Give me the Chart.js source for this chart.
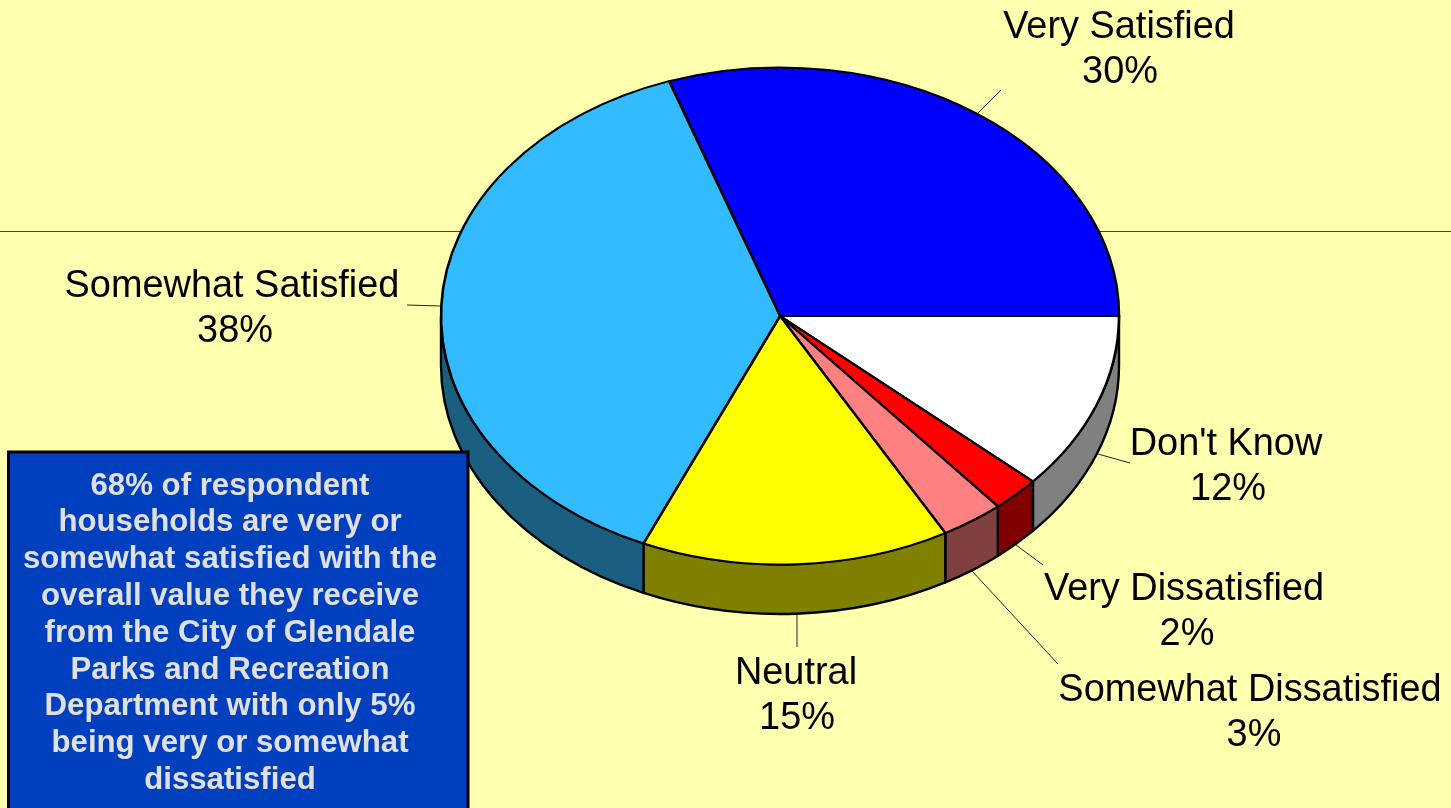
<!DOCTYPE html>
<html><head><meta charset="utf-8">
<style>html,body{margin:0;padding:0;background:#FFFFB0;overflow:hidden}canvas{display:block}</style>
<script src="https://cdn.jsdelivr.net/npm/chart.js@4"></script>
</head><body><canvas id="c" width="1451" height="808"></canvas>
<script>
const categories = ["Very Satisfied","Don't Know","Very Dissatisfied","Somewhat Dissatisfied","Neutral","Somewhat Satisfied"];
const percents = [30.3,11.6,2.3,3.0,14.7,38.1];
const topColors = ["#0000FF","#FFFFFF","#FF0000","#FF8080","#FFFF00","#33BBFF"];
const sideColors = ["#000080","#808080","#800000","#804040","#808000","#1A5E80"];
const labelCenters = [[1119,28],[1226,445],[1184,590],[1250,691],[796,674],[232,287]];
const percentShifts = [1,2,3,4,1,3];
const leaders = [[1001,90,978,113],[1130,463,1098,454],[1043,565,1016,545],[1058,664,972,571],[797,647,797,615],[407,305,441,306]];
const noteLines = ["68% of respondent","households are very or","somewhat satisfied with the","overall value they receive","from the City of Glendale","Parks and Recreation","Department with only 5%","being very or somewhat","dissatisfied"];
const pieCy = 316, pieRadius = 339, squash = 248.5/339, depth = 49.5;
const font = '"Liberation Sans", Arial, sans-serif';

const pie3d = {
  id:'pie3d',
  beforeDatasetsDraw(chart){
    const ctx = chart.ctx, arcs = chart.getDatasetMeta(0).data;
    ctx.save();
    ctx.fillStyle = '#3A4550';
    ctx.fillRect(0,231,1451,1);
    ctx.strokeStyle = '#000'; ctx.lineWidth = 2.4; ctx.lineJoin = 'round';
    arcs.forEach((a,i)=>{
      const a0 = Math.max(a.startAngle,0), a1 = Math.min(a.endAngle,Math.PI);
      if(a1-a0 < 1e-3) return;
      const rx = a.outerRadius, ry = rx*squash;
      ctx.beginPath();
      ctx.ellipse(a.x,pieCy,rx,ry,0,a0,a1);
      ctx.ellipse(a.x,pieCy+depth,rx,ry,0,a1,a0,true);
      ctx.closePath();
      ctx.fillStyle = sideColors[i];
      ctx.fill(); ctx.stroke();
    });
    ctx.restore();
    const y0 = arcs[0].y;
    ctx.save();
    ctx.translate(0,pieCy); ctx.scale(1,squash); ctx.translate(0,-y0);
  },
  afterDatasetsDraw(chart){
    const ctx = chart.ctx;
    ctx.restore();
    ctx.save();
    ctx.strokeStyle = '#222'; ctx.lineWidth = 1;
    leaders.forEach(l=>{ctx.beginPath();ctx.moveTo(l[0],l[1]);ctx.lineTo(l[2],l[3]);ctx.stroke();});
    ctx.fillStyle = '#000'; ctx.textAlign='center'; ctx.textBaseline='middle';
    ctx.font = '37.9px '+font;
    categories.forEach((c,i)=>{
      const [x,y] = labelCenters[i];
      ctx.fillText(c,x,y);
      ctx.fillText(Math.round(percents[i])+'%',x+percentShifts[i],y+45);
    });
    ctx.fillStyle = '#0040BF';
    ctx.fillRect(8,451,461,357);
    ctx.strokeStyle = '#000'; ctx.lineWidth = 3;
    ctx.beginPath();ctx.moveTo(8.5,810);ctx.lineTo(8.5,452);ctx.lineTo(468,452);ctx.lineTo(468,810);ctx.stroke();
    ctx.fillStyle = '#E0E0E0';
    ctx.font = 'bold 31.2px '+font;
    noteLines.forEach((t,i)=>ctx.fillText(t,230,486+i*36.8));
    ctx.restore();
  }
};

new Chart(document.getElementById('c'),{
  type:'pie',
  data:{labels:categories,datasets:[{data:percents,backgroundColor:topColors,borderColor:'#000',borderWidth:2.6,borderJoinStyle:'round',radius:pieRadius,rotation:-19.1}]},
  options:{responsive:false,animation:false,layout:{padding:{left:109}},events:[],
    plugins:{legend:{display:false},tooltip:{enabled:false},title:{display:false}}},
  plugins:[pie3d]
});
</script></body></html>
